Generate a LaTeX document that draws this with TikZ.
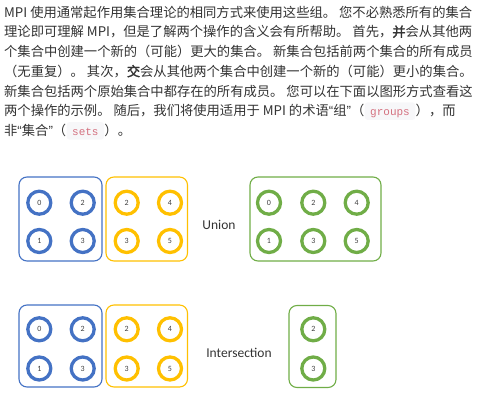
\documentclass[tikz,border=0pt]{standalone}
\usepackage{fontspec}
\usepackage{tikz}
\usetikzlibrary{positioning}

\newfontfamily\cjk[AutoFakeBold=2]{Noto Sans CJK SC}
\newfontfamily\lat{Liberation Sans}
\newfontfamily\mono{Liberation Mono}
\newfontfamily\cali{Carlito}

\definecolor{setblue}{HTML}{4472C4}
\definecolor{setgold}{HTML}{FFC000}
\definecolor{setgreen}{HTML}{70AD47}
\definecolor{txtgray}{HTML}{333333}
\definecolor{numgray}{HTML}{404040}
\definecolor{codepink}{HTML}{D4707F}
\definecolor{codebg}{HTML}{F7F7F9}

\tikzset{
  para/.style={anchor=base west, inner sep=0pt, text=txtgray, font=\cjk\fontsize{13.3}{16}\selectfont},
  code/.style={fill=codebg, rounded corners=3pt, text=codepink, font=\mono\fontsize{11}{13}\selectfont,
    inner xsep=5.5pt, inner ysep=2pt, text height=11.5pt, text depth=2.2pt},
  ring/.style={circle, draw=#1, line width=3.3pt, minimum size=23pt, inner sep=0pt, text=numgray,
    font=\cali\fontsize{8}{8}\selectfont},
  setbox/.style={draw=#1, rounded corners=8pt, line width=1.1pt, inner sep=0pt},
  oplabel/.style={text=txtgray, font=\cali\fontsize{13.5}{16}\selectfont}
}

\begin{document}
\begin{tikzpicture}[x=1pt, y=-1pt]
  \useasboundingbox (0,0) rectangle (480,407);

  % Paragraph
  \node[para] (l1) at (4,17) {MPI 使用通常起作用集合理论的相同方式来使用这些组。 您不必熟悉所有的集合};
  \node[para] (l2) at (4,36.75) {理论即可理解 MPI，但是了解两个操作的含义会有所帮助。 首先，\textbf{并}会从其他两};
  \node[para] (l3) at (4,56.5) {个集合中创建一个新的（可能）更大的集合。 新集合包括前两个集合的所有成员};
  \node[para] (l4) at (4,76.25) {（无重复）。 其次，\textbf{交}会从其他两个集合中创建一个新的（可能）更小的集合。};
  \node[para] (l5) at (4,96) {新集合包括两个原始集合中都存在的所有成员。 您可以在下面以图形方式查看这};
  \node[para] (l6) at (4,115.75) {两个操作的示例。 随后，我们将使用适用于 MPI 的术语{\lat “}组{\lat ”}（};
  \node[code, base right=0pt of l6] (groups) {groups};
  \node[para, base right=0pt of groups] (l6b) {），而};
  \node[para] (l7) at (4,135.5) {非{\lat “}集合{\lat ”}（};
  \node[code, base right=0pt of l7] (sets) {sets};
  \node[para, base right=0pt of sets] (l7b) {）。};

  % Union: the sets
  \node[setbox=setblue, minimum width=83pt, minimum height=84pt] (ua) at (60.5,219) {};
  \node[setbox=setgold, minimum width=81.5pt, minimum height=84pt] (ub) at (146.75,219) {};
  \node[oplabel] (union) at (219,225) {Union};
  \node[setbox=setgreen, minimum width=131pt, minimum height=84pt] (uc) at (315.5,219) {};

  % Union: the members
  \node[ring=setblue] (ua0) at (39.3,202.7) {0};
  \node[ring=setblue] (ua2) at (82.7,202.7) {2};
  \node[ring=setblue] (ua1) at (39.3,241) {1};
  \node[ring=setblue] (ua3) at (82.7,241) {3};
  \node[ring=setgold] (ub2) at (126.7,202.7) {2};
  \node[ring=setgold] (ub4) at (170,202.7) {4};
  \node[ring=setgold] (ub3) at (126.7,241) {3};
  \node[ring=setgold] (ub5) at (170,241) {5};
  \node[ring=setgreen] (uc0) at (269,202.7) {0};
  \node[ring=setgreen] (uc2) at (313.3,202.7) {2};
  \node[ring=setgreen] (uc4) at (356.7,202.7) {4};
  \node[ring=setgreen] (uc1) at (269,241) {1};
  \node[ring=setgreen] (uc3) at (313.3,241) {3};
  \node[ring=setgreen] (uc5) at (356.7,241) {5};

  % Intersection: the sets
  \node[setbox=setblue, minimum width=83pt, minimum height=82pt] (ia) at (60.5,346) {};
  \node[setbox=setgold, minimum width=81.5pt, minimum height=82pt] (ib) at (146.75,346) {};
  \node[oplabel] (inter) at (239,353) {Intersection};
  \node[setbox=setgreen, minimum width=47pt, minimum height=82pt] (ic) at (312.5,346.5) {};

  % Intersection: the members
  \node[ring=setblue] (ia0) at (39.3,329.3) {0};
  \node[ring=setblue] (ia2) at (82.7,329.3) {2};
  \node[ring=setblue] (ia1) at (39.3,368.5) {1};
  \node[ring=setblue] (ia3) at (82.7,368.5) {3};
  \node[ring=setgold] (ib2) at (126.7,329.3) {2};
  \node[ring=setgold] (ib4) at (170,329.3) {4};
  \node[ring=setgold] (ib3) at (126.7,368.5) {3};
  \node[ring=setgold] (ib5) at (170,368.5) {5};
  \node[ring=setgreen] (ic2) at (313.3,329.3) {2};
  \node[ring=setgreen] (ic3) at (313.3,368.5) {3};
\end{tikzpicture}
\end{document}
